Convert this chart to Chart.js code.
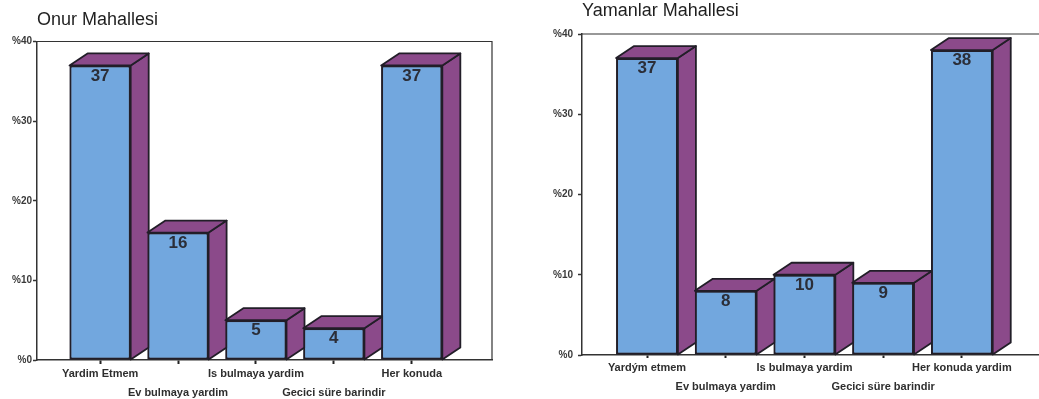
<!DOCTYPE html>
<html>
<head>
<meta charset="utf-8">
<script src="https://cdn.jsdelivr.net/npm/chart.js@4.4.1/dist/chart.umd.min.js"></script>
<style>
  html, body { margin: 0; padding: 0; background: #ffffff; overflow: hidden; width: 1039px; height: 399px; }
  .panel { position: absolute; top: 0; height: 399px; }
  #panelOnur { left: 0; width: 500px; }
  #panelYamanlar { left: 540px; width: 510px; }
</style>
</head>
<body>
<div class="panel" id="panelOnur"><canvas id="onur" width="500" height="399"></canvas></div>
<div class="panel" id="panelYamanlar"><canvas id="yamanlar" width="510" height="399"></canvas></div>
<script>
// Survey answers, percent of respondents per neighbourhood
const onurTitle = 'Onur Mahallesi';
const onurCategories = ['Yardim Etmem', 'Ev bulmaya yardim', 'Is bulmaya yardim', 'Gecici süre barindir', 'Her konuda'];
const onurValues = [37, 16, 5, 4, 37];

const yamanlarTitle = 'Yamanlar Mahallesi';
const yamanlarCategories = ['Yardým etmem', 'Ev bulmaya yardim', 'Is bulmaya yardim', 'Gecici süre barindir', 'Her konuda yardim'];
const yamanlarValues = [37, 8, 10, 9, 38];

const percentTicks = [0, 10, 20, 30, 40];

const FRONT = '#72a7de';
const SIDE = '#8b4a8a';
const EDGE = '#221e28';
const INK = '#2b2e38';
const FONT = "'Liberation Sans', Arial, sans-serif";

// Draws the depth faces of each bar, then repaints its front so later bars sit in front
const bar3d = {
  id: 'bar3d',
  afterDatasetsDraw(chart, args, opts) {
    const ctx = chart.ctx;
    const meta = chart.getDatasetMeta(0);
    const values = chart.data.datasets[0].data;
    const dx = opts.depthX, dy = opts.depthY;
    meta.data.forEach((bar, i) => {
      const p = bar.getProps(['x', 'y', 'base', 'width'], true);
      const l = p.x - p.width / 2, r = p.x + p.width / 2;
      ctx.save();
      ctx.fillStyle = SIDE;
      ctx.strokeStyle = EDGE;
      ctx.lineWidth = 1.8;
      ctx.lineJoin = 'round';
      ctx.beginPath();
      ctx.moveTo(r, p.y);
      ctx.lineTo(r + dx, p.y - dy);
      ctx.lineTo(r + dx, p.base - dy);
      ctx.lineTo(r, p.base);
      ctx.closePath();
      ctx.fill();
      ctx.stroke();
      ctx.beginPath();
      ctx.moveTo(l, p.y);
      ctx.lineTo(l + dx, p.y - dy);
      ctx.lineTo(r + dx, p.y - dy);
      ctx.lineTo(r, p.y);
      ctx.closePath();
      ctx.fill();
      ctx.stroke();
      ctx.restore();
      bar.draw(ctx);
      ctx.save();
      ctx.font = 'bold 17px ' + FONT;
      ctx.fillStyle = INK;
      ctx.textAlign = 'center';
      ctx.textBaseline = 'middle';
      ctx.fillText(String(values[i].y), p.x, p.y + opts.labelOffset);
      ctx.restore();
    });
  }
};

// Top and right edges of the plot frame
const frame = {
  id: 'frame',
  beforeDatasetsDraw(chart) {
    const { ctx, chartArea: a } = chart;
    ctx.save();
    ctx.strokeStyle = '#333';
    ctx.lineWidth = 1.2;
    ctx.beginPath();
    ctx.moveTo(a.left, a.top);
    ctx.lineTo(a.right, a.top);
    ctx.lineTo(a.right, a.bottom);
    ctx.stroke();
    ctx.restore();
  }
};

function makeChart(id, cfg) {
  const cats = cfg.categories;
  return new Chart(document.getElementById(id), {
    type: 'bar',
    data: {
      datasets: [{
        data: cfg.values.map((v, i) => ({ x: i, y: v })),
        backgroundColor: FRONT,
        borderColor: EDGE,
        borderWidth: 2,
        borderSkipped: false,
        barPercentage: 0.785,
        categoryPercentage: 1
      }]
    },
    options: {
      responsive: false,
      animation: false,
      layout: { padding: { left: 0, right: cfg.padRight, top: 0, bottom: 0 } },
      plugins: {
        legend: { display: false },
        tooltip: { enabled: false },
        title: {
          display: true,
          text: cfg.title,
          align: 'start',
          fullSize: false,
          color: '#1f1f1f',
          font: { family: FONT, size: 18, weight: 'normal', lineHeight: 1.2 },
          padding: { top: cfg.titleTop, bottom: cfg.titleBottom }
        },
        bar3d: { depthX: 18, depthY: 12, labelOffset: 10.5 }
      },
      scales: {
        x: {
          type: 'linear',
          offset: false,
          min: cfg.xMin,
          max: cfg.xMax,
          afterBuildTicks: s => { s.ticks = cats.map((_, i) => ({ value: i })); },
          afterFit: s => { s.height = cfg.xHeight; },
          grid: { display: true, offset: false, drawOnChartArea: false, drawTicks: true, tickLength: cfg.xTick, tickWidth: 2, tickColor: '#222' },
          border: { display: true, color: '#333', width: 1.5 },
          ticks: {
            autoSkip: false,
            maxRotation: 0,
            padding: cfg.xPad,
            color: '#2e2e2e',
            font: { family: FONT, size: 11, weight: 'bold', lineHeight: cfg.xLine },
            callback: v => {
              const i = Math.round(v);
              return i % 2 ? ['', cats[i]] : cats[i];
            }
          }
        },
        y: {
          min: 0,
          max: 40,
          afterBuildTicks: s => { s.ticks = percentTicks.map(v => ({ value: v })); },
          afterFit: s => { s.width = cfg.yWidth; },
          grid: { display: true, drawOnChartArea: false, drawTicks: true, tickLength: 4, tickWidth: 1.5, tickColor: '#333' },
          border: { display: true, color: '#333', width: 1.5 },
          ticks: {
            padding: cfg.yPad,
            color: '#3a3a3a',
            font: { family: FONT, size: 10, weight: 'bold' },
            callback: v => '%' + v
          }
        }
      }
    },
    plugins: [frame, bar3d]
  });
}

makeChart('onur', {
  title: onurTitle, categories: onurCategories, values: onurValues,
  xMin: -0.81, xMax: 5.03, padRight: 8,
  titleTop: 9.2, titleBottom: 10.7,
  xHeight: 39, xTick: 4, xPad: 1, xLine: 1.7,
  yWidth: 37, yPad: 1
});

makeChart('yamanlar', {
  title: yamanlarTitle, categories: yamanlarCategories, values: yamanlarValues,
  xMin: -0.826, xMax: 5.12, padRight: 0,
  titleTop: 0.2, titleBottom: 12.2,
  xHeight: 44, xTick: 3, xPad: 0, xLine: 1.75,
  yWidth: 42, yPad: 5
});
</script>
</body>
</html>
